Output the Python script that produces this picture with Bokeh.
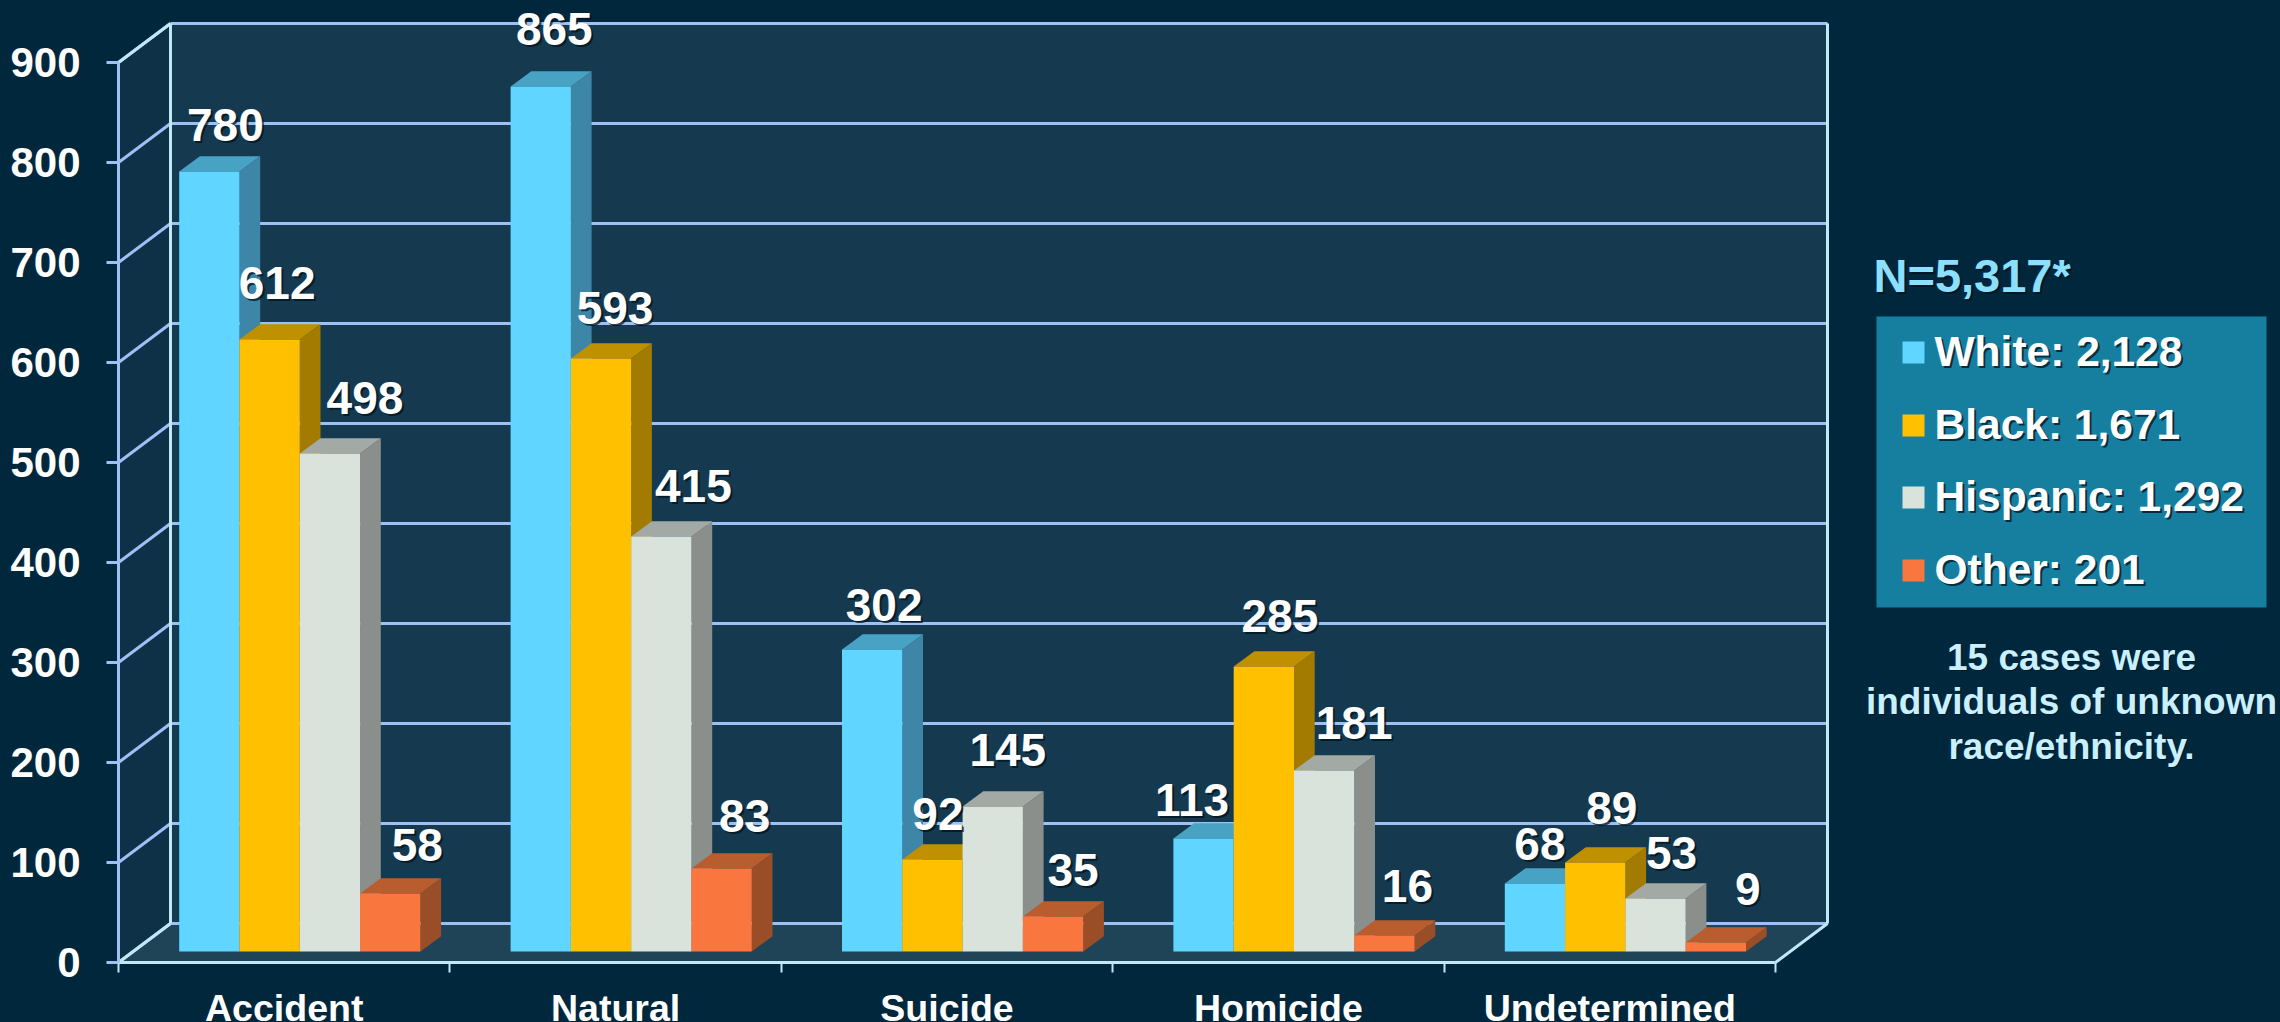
from bokeh.plotting import figure
from bokeh.embed import file_html
from bokeh.resources import INLINE
from bokeh.core.properties import value
from bokeh.models import FixedTicker, Range1d

categories = ["Accident", "Natural", "Suicide", "Homicide", "Undetermined"]
white = [780, 865, 302, 113, 68]
black = [612, 593, 92, 285, 89]
hispanic = [498, 415, 145, 181, 53]
other = [58, 83, 35, 16, 9]
y_ticks = [0, 100, 200, 300, 400, 500, 600, 700, 800, 900]
legend_rows = ["White: 2,128", "Black: 1,671", "Hispanic: 1,292", "Other: 201"]
note_lines = ["15 cases were", "individuals of unknown", "race/ethnicity."]
n_text = "N=5,317*"

# manual label nudges in pixels (per series, per category), as placed in the reference
lab_dx = [[16, 13.5, 12, -11.5, 5], [7.5, 14, 5.5, 16, 16.5], [35, 32, 15, 30, 16], [27, 23, 20, 23, 32]]
lab_dy = [[-46, -57, -44, -38, -39], [-56, -50, -45, -49.5, -54], [-55, -50, -56, -47, -45], [-48, -52, -46, -49, -53]]

FRONT = ["#5FD5FF", "#FFC000", "#D9E3DC", "#F9773F"]
TOP = ["#47A2C4", "#BF9000", "#A3AAA5", "#B95C2E"]
SIDE = ["#3E86A8", "#A37B00", "#8B8F8B", "#9A4E28"]
BG, LEFTW, BACKW, FLOOR = "#01273D", "#0E3148", "#153A4F", "#204457"
GRID, EDGE = "#A0C0F5", "#BFE9F7"
FONT = value("Liberation Sans")

W, H = 2280, 1022
UX = 331.4            # pixels per category
ORG_X, ORG_Y = 118, 962
X = lambda px: (px - ORG_X) / UX
Y = lambda py: ORG_Y - py

p = figure(width=W, height=H, output_backend="svg", toolbar_location=None,
           x_range=Range1d(X(0), X(W)), y_range=Range1d(Y(H), Y(0)),
           min_border=0, outline_line_color=None,
           background_fill_color=BG, border_fill_color=BG)
p.grid.visible = False

# 3D box
DX, DY = 52 / UX, 39
n = len(categories)
top_v = y_ticks[-1]
p.patch([0, DX, DX, 0], [0, DY, top_v + DY, top_v], color=LEFTW, line_width=0)
p.patch([DX, n + DX, n + DX, DX], [DY, DY, top_v + DY, top_v + DY], color=BACKW, line_width=0)
p.patch([0, n, n + DX, DX], [0, 0, DY, DY], color=FLOOR, line_width=0)
p.segment([DX] * len(y_ticks), [v + DY for v in y_ticks], [n + DX] * len(y_ticks), [v + DY for v in y_ticks],
          line_color=GRID, line_width=3)
p.segment([0] * len(y_ticks), y_ticks, [DX] * len(y_ticks), [v + DY for v in y_ticks],
          line_color=GRID, line_width=3)
p.segment([DX, n + DX, 0, n, 0], [DY, DY, 0, 0, top_v], [DX, n + DX, DX, n + DX, DX], [top_v + DY, top_v + DY, DY, DY, top_v + DY],
          line_color=EDGE, line_width=3)

# bars
series = [white, black, hispanic, other]
BW = 60.3 / UX
GAP = 46 / UX
SHIFT_X, SHIFT_Y = 14.7 / UX, 11
BDX, BDY = 20.7 / UX, 15.3
lx, ly, tx = [], [], []
for s, vals in enumerate(series):
    lefts = [c + SHIFT_X + GAP + s * BW for c in range(n)]
    rights = [l + BW for l in lefts]
    tops = [v + SHIFT_Y for v in vals]
    p.patches([[r, r + BDX, r + BDX, r] for r in rights],
              [[SHIFT_Y, SHIFT_Y + BDY, t + BDY, t] for t in tops], color=SIDE[s], line_width=0)
    p.patches([[l, r, r + BDX, l + BDX] for l, r in zip(lefts, rights)],
              [[t, t, t + BDY, t + BDY] for t in tops], color=TOP[s], line_width=0)
    p.quad(left=lefts, right=rights, bottom=[SHIFT_Y] * n, top=tops, color=FRONT[s], line_width=0)
    for c in range(n):
        lx.append(lefts[c] + BW / 2 + lab_dx[s][c] / UX)
        ly.append(tops[c] - lab_dy[s][c])
        tx.append(str(vals[c]))

# text with soft shadow
def shadowed(xs, ys, texts, size, color, align="center", sh=2):
    p.text(xs, ys, text=texts, text_font=FONT, text_font_style="bold", text_font_size=value(size),
           text_color="#00141F", text_alpha=0.75, text_align=align, text_baseline="middle",
           x_offset=sh, y_offset=sh - 1)
    p.text(xs, ys, text=texts, text_font=FONT, text_font_style="bold", text_font_size=value(size),
           text_color=color, text_align=align, text_baseline="middle", y_offset=-1)

shadowed(lx, ly, tx, "46px", "#FFFFFF")

# axes
ya = p.yaxis[0]
ya.fixed_location = 0
ya.bounds = (0, top_v)
ya.ticker = FixedTicker(ticks=y_ticks)
ya.axis_line_color = GRID
ya.axis_line_width = 3
ya.major_tick_line_color = GRID
ya.major_tick_line_width = 3
ya.major_tick_out = 12
ya.major_tick_in = 0
ya.minor_tick_line_color = None
ya.major_label_standoff = 26
ya.major_label_text_font = "Liberation Sans"
ya.major_label_text_font_style = "bold"
ya.major_label_text_font_size = "42px"
ya.major_label_text_color = "#FFFFFF"

xa = p.xaxis[0]
xa.fixed_location = 0
xa.bounds = (0, n)
xa.ticker = FixedTicker(ticks=[c + 0.5 for c in range(n)], minor_ticks=list(range(n + 1)))
xa.major_label_overrides = {c + 0.5: categories[c] for c in range(n)}
xa.axis_line_color = EDGE
xa.axis_line_width = 3
xa.major_tick_line_color = None
xa.major_tick_out = 0
xa.major_tick_in = 0
xa.minor_tick_line_color = EDGE
xa.minor_tick_line_width = 2
xa.minor_tick_out = 10
xa.minor_tick_in = 0
xa.major_label_standoff = 14
xa.major_label_text_font = "Liberation Sans"
xa.major_label_text_font_style = "bold"
xa.major_label_text_font_size = "37.5px"
xa.major_label_text_color = "#FFFFFF"

# legend panel
p.quad(left=[X(1876)], right=[X(2266)], bottom=[Y(607)], top=[Y(316)], color="#167F9F", line_width=0)
rows_y = [352, 425, 497, 570]
p.quad(left=[X(1902)] * 4, right=[X(1924)] * 4, top=[Y(r - 11) for r in rows_y], bottom=[Y(r + 11) for r in rows_y],
       color=FRONT, line_width=0)
shadowed([X(1934)] * 4, [Y(r) for r in rows_y], legend_rows, "42.5px", "#FFFFFF", align="left")
shadowed([X(1873)], [Y(276)], [n_text], "47px", "#8CE0FF", align="left")
shadowed([X(2071)] * 3, [Y(658), Y(702), Y(747)], note_lines, "37px", "#C8F0FF", sh=1)

tmpl = "{% block postamble %}<style>html,body{background:" + BG + ";margin:0}</style>{% endblock %}"
open("out.html", "w").write(file_html(p, INLINE, template=tmpl))
